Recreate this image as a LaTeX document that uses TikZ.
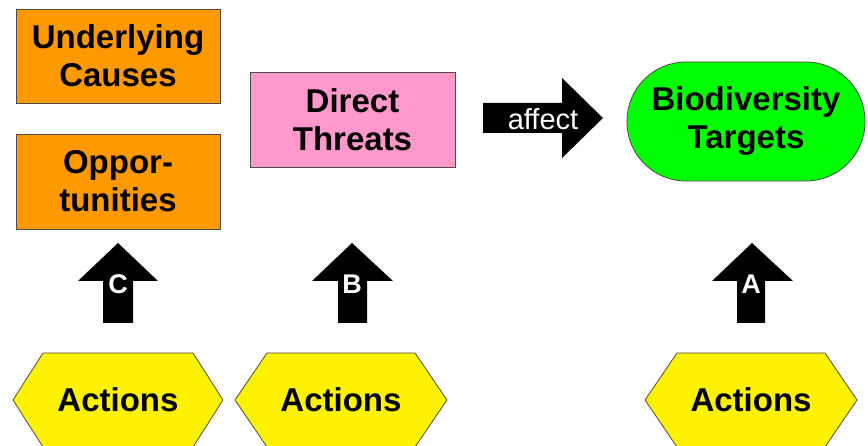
\documentclass[tikz,border=0pt]{standalone}
\usepackage{fontspec}
\setmainfont{Liberation Sans}
\begin{document}
\begin{tikzpicture}[x=1pt,y=-1pt,
  txt/.style={font=\fontsize{33}{38}\selectfont\bfseries, align=center, inner sep=0pt},
  box/.style={txt, draw=black!70, line width=0.8pt, minimum width=204pt, minimum height=94pt},
  hexfill/.style={fill=yellow, draw=black!70, line width=0.8pt},
  blk/.style={fill=black},
  lbl/.style={text=white, font=\fontsize{27}{30}\selectfont\bfseries, inner sep=0pt}
]
\definecolor{orangeA}{HTML}{FF9900}
\definecolor{pinkA}{HTML}{FF99CC}
\definecolor{greenA}{HTML}{00FF00}
\useasboundingbox (0,0) rectangle (868,446);
\clip (0,0) rectangle (868,446);
\fill[white] (0,0) rectangle (868,446);

% boxes
\node[box, fill=orangeA] (uc) at (118,56) {Underlying\\Causes};
\node[box, fill=orangeA, minimum height=95pt] (op) at (118,181.5) {Oppor-\\tunities};
\node[box, fill=pinkA, minimum width=205pt, minimum height=95pt] (dt) at (352.5,119.5) {Direct\\Threats};
\node[txt, draw=black!70, line width=0.8pt, fill=greenA, rounded corners=59pt, minimum width=238pt, minimum height=119pt] (bt) at (746,121.5) {Biodiversity\\Targets};

% affect arrow
\fill[blk] (483,103) -- (562,103) -- (562,78) -- (603,118) -- (562,158) -- (562,133) -- (483,133) -- cycle;
\node[text=white, font=\fontsize{29}{30}\selectfont, inner sep=0pt] (aff) at (543,119) {affect};

% hexagons
\path[hexfill] (43,353) -- (193,353) -- (223,400) -- (193,447) -- (43,447) -- (13,400) -- cycle;
\path[hexfill] (267,353) -- (415,353) -- (447,400) -- (415,447) -- (267,447) -- (235,400) -- cycle;
\path[hexfill] (677,353) -- (825,353) -- (857,400) -- (825,447) -- (677,447) -- (645,400) -- cycle;
\node[txt] (actC) at (118,400) {Actions};
\node[txt] (actB) at (341,400) {Actions};
\node[txt] (actA) at (751,400) {Actions};

% up arrows
\fill[blk] (103,323) -- (103,281) -- (78,281) -- (118,243) -- (158,281) -- (133,281) -- (133,323) -- cycle;
\fill[blk] (338,323) -- (338,281) -- (312,281) -- (352,243) -- (393,281) -- (367,281) -- (367,323) -- cycle;
\fill[blk] (737,323) -- (737,281) -- (712,281) -- (752,243) -- (793,281) -- (765,281) -- (765,323) -- cycle;
\node[lbl] (lc) at (118,284) {C};
\node[lbl] (lb) at (352,284) {B};
\node[lbl] (la) at (751,284) {A};
\end{tikzpicture}
\end{document}
